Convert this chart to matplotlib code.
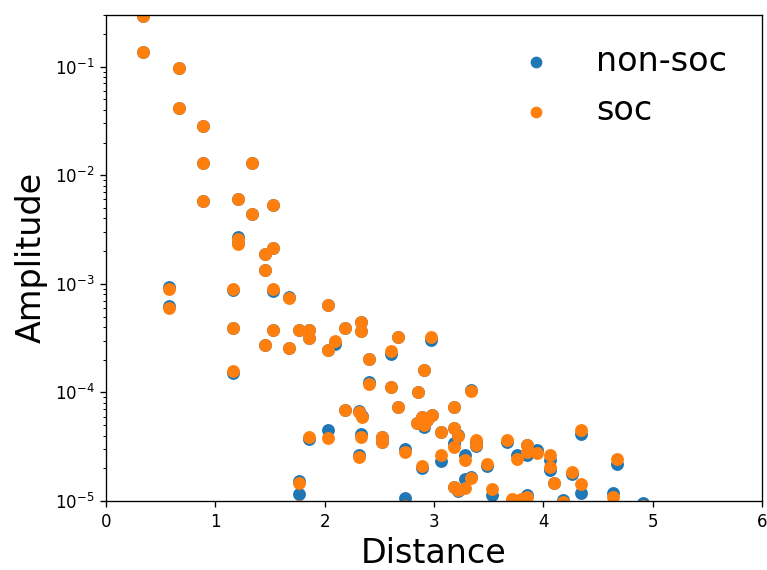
import matplotlib
matplotlib.use("Agg")
import matplotlib.pyplot as plt

# --- Data ---
distance = [
    0.341, 0.341, 0.579, 0.579, 0.671, 0.671, 0.890, 0.890, 0.890,
    1.159, 1.159, 1.159, 1.208, 1.208, 1.208, 1.336, 1.336,
    1.458, 1.458, 1.458, 1.531, 1.531, 1.531, 1.531,
    1.671, 1.671, 1.766, 1.766, 1.766, 1.860, 1.860, 1.860,
    2.028, 2.028, 2.028, 2.090, 2.187, 2.187, 2.310, 2.340, 2.315,
    2.333, 2.333, 2.333, 2.406, 2.406, 2.522, 2.522, 2.607, 2.607,
    2.668, 2.668, 2.736, 2.736, 2.852, 2.843, 2.888, 2.909, 2.909,
    2.894, 2.934, 2.970, 2.980, 3.062, 3.062, 3.184, 3.184, 3.224,
    3.184, 3.184, 3.224, 3.285, 3.285, 3.337, 3.337, 3.385, 3.385,
    3.489, 3.529, 3.672, 3.710, 3.757, 3.800, 3.849, 3.849, 3.849,
    3.940, 4.062, 4.062, 4.102, 4.184, 4.263, 4.340, 4.340,
    4.636, 4.672, 4.916,
]
amp_nonsoc = [
    0.295, 0.136, 9.44e-4, 6.27e-4, 0.098, 0.042, 0.0284, 0.013, 0.00582,
    8.7e-4, 3.95e-4, 1.50e-4, 0.00604, 0.0027, 0.0024, 0.013, 0.00442,
    0.00189, 0.00135, 2.74e-4, 0.00535, 0.00215, 8.5e-4, 3.77e-4,
    7.63e-4, 2.59e-4, 3.77e-4, 1.54e-5, 1.15e-5, 3.77e-4, 3.2e-4, 3.73e-5,
    6.4e-4, 2.47e-4, 4.5e-5, 2.8e-4, 3.95e-4, 6.9e-5, 6.7e-5, 6.1e-5, 2.65e-5,
    4.49e-4, 3.64e-4, 4.14e-5, 2.04e-4, 1.26e-4, 3.86e-5, 3.5e-5, 2.26e-4, 1.12e-4,
    3.27e-4, 7.4e-5, 3.0e-5, 1.06e-5, 1.0e-4, 5.2e-5, 5.9e-5, 1.61e-4, 4.8e-5,
    2.0e-5, 5.6e-5, 3.05e-4, 6.2e-5, 4.3e-5, 2.34e-5, 7.3e-5, 4.7e-5, 4.06e-5,
    3.4e-5, 1.35e-5, 1.24e-5, 2.65e-5, 1.6e-5, 1.05e-4, 1.67e-5, 3.5e-5, 3.2e-5,
    2.1e-5, 1.14e-5, 3.5e-5, 1.0e-5, 2.65e-5, 1.0e-5, 3.3e-5, 2.65e-5, 1.14e-5,
    2.95e-5, 2.4e-5, 1.95e-5, 1.47e-5, 1.02e-5, 1.77e-5, 4.14e-5, 1.19e-5,
    1.18e-5, 2.19e-5, 9.6e-6,
]
amp_soc = [
    0.295, 0.136, 8.93e-4, 6.01e-4, 0.098, 0.042, 0.0284, 0.013, 0.00582,
    8.93e-4, 3.95e-4, 1.59e-4, 0.00604, 0.0026, 0.00235, 0.013, 0.00442,
    0.00189, 0.00135, 2.74e-4, 0.00535, 0.00215, 8.9e-4, 3.77e-4,
    7.38e-4, 2.59e-4, 3.77e-4, 1.46e-5, 9.0e-6, 3.77e-4, 3.16e-4, 3.92e-5,
    6.4e-4, 2.47e-4, 3.78e-5, 3.0e-4, 3.95e-4, 6.9e-5, 6.6e-5, 6.0e-5, 2.56e-5,
    4.49e-4, 3.64e-4, 3.86e-5, 2.04e-4, 1.19e-4, 3.86e-5, 3.5e-5, 2.41e-4, 1.12e-4,
    3.27e-4, 7.4e-5, 2.84e-5, 9.0e-6, 1.0e-4, 5.2e-5, 5.9e-5, 1.61e-4, 5.0e-5,
    2.1e-5, 5.6e-5, 3.23e-4, 6.2e-5, 4.3e-5, 2.66e-5, 7.3e-5, 4.7e-5, 4.0e-5,
    3.16e-5, 1.35e-5, 1.27e-5, 2.4e-5, 1.33e-5, 1.02e-4, 1.62e-5, 3.65e-5, 3.28e-5,
    2.19e-5, 1.28e-5, 3.65e-5, 1.05e-5, 2.42e-5, 1.05e-5, 3.3e-5, 2.8e-5, 1.1e-5,
    2.75e-5, 2.66e-5, 2.07e-5, 1.47e-5, 9.8e-6, 1.86e-5, 4.5e-5, 1.43e-5,
    1.1e-5, 2.44e-5, 9.0e-6,
]

# --- Plot ---
fig = plt.figure(figsize=(767 / 120, 570 / 120), dpi=120)
ax = fig.add_axes([0.1382, 0.121, 0.8553, 0.853])
ax.scatter(distance, amp_nonsoc, s=45, label="non-soc")
ax.scatter(distance, amp_soc, s=45, label="soc")
ax.set_yscale("log")
ax.set_xlim(0, 6)
ax.set_ylim(1e-5, 0.3)
ax.set_xlabel("Distance", fontsize=20)
ax.set_ylabel("Amplitude", fontsize=20)
ax.legend(fontsize=20, frameon=False, loc="upper right", markerscale=0.9,
          bbox_to_anchor=(0.993, 1.0))
fig.savefig("out.png", dpi=120)
